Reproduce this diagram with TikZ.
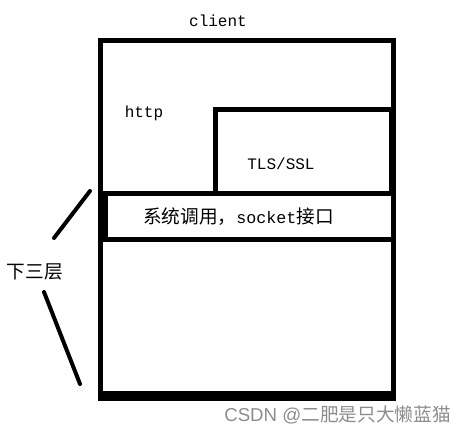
\documentclass[tikz,border=0pt]{standalone}
\usepackage{fontspec}
\setmonofont{Liberation Mono}
\newfontfamily\cjk{Noto Sans CJK SC}
\newfontfamily\wmfont{Liberation Sans}
\tikzset{
  boxline/.style={line width=3.75pt},
  slashline/.style={line width=3pt, line cap=round},
  label/.style={font=\ttfamily\fontsize{12pt}{14pt}\selectfont, inner sep=0pt},
  cjklabel/.style={font=\cjk\fontsize{14pt}{16pt}\selectfont, inner sep=0pt}
}

\begin{document}
\begin{tikzpicture}[x=0.75pt, y=-0.75pt]
			%%%%% START %%%%%
			\useasboundingbox (0, 0) rectangle (468, 435);

			\draw[boxline] (100.5, 40.5) rectangle (393, 394);
			\draw[fill=black] (98, 391) rectangle (395.5, 400.7);

			\draw[boxline] (215, 109.5) rectangle (391, 193.5);
			\draw[boxline] (105, 193.5) rectangle (393, 239);
			\draw[boxline] (100.5, 193.5) -- (105, 193.5);

			\node[label] (client) at (218, 21) {client};
			\node[label] (http) at (144, 113) {http};
			\node[label] (tls) at (281, 164) {TLS/SSL};
			\node[cjklabel] (socket) at (238.5, 217) {系统调用，{\ttfamily\fontsize{12.5pt}{14pt}\selectfont socket}接口};
			\node[cjklabel] (lower) at (35, 272) {下三层};

			\draw[slashline] (90, 191) -- (54, 238);
			\draw[slashline] (44, 292) -- (80, 384);

			\node[inner sep=0pt, text=black!45, font=\wmfont\fontsize{14pt}{16pt}\selectfont] (mark) at (337.5, 415) {CSDN @{\cjk 二肥是只大懒蓝猫}};
			%%%%% END %%%%%
\end{tikzpicture}
\end{document}
